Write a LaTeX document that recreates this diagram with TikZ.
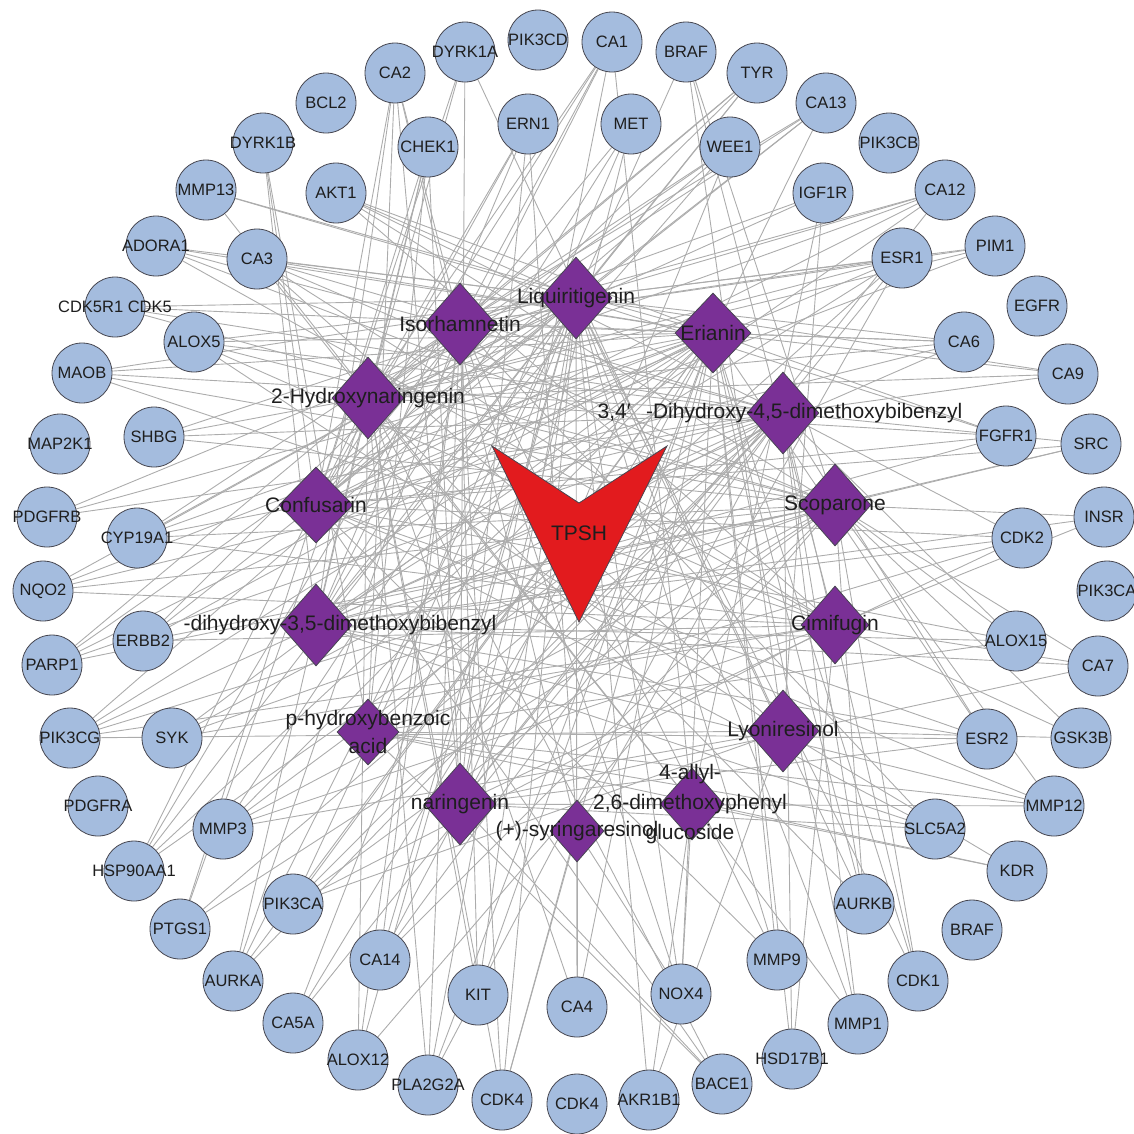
\documentclass[tikz,border=0pt]{standalone}
\usepackage{fontspec}
\setmainfont{Liberation Sans}
\usetikzlibrary{shapes.geometric}
\definecolor{tgtblue}{RGB}{164,188,222}
\definecolor{cpviolet}{RGB}{122,48,150}
\definecolor{tpshred}{RGB}{226,27,30}
\definecolor{nodeline}{RGB}{70,70,80}
\definecolor{edgegray}{RGB}{172,172,172}
\definecolor{txtcol}{RGB}{30,30,30}
\pgfdeclarelayer{edgelayer}
\pgfsetlayers{edgelayer,main}

\begin{document}
\begin{tikzpicture}[x=1pt,y=-1pt,
   tg/.style={circle,draw=nodeline,fill=tgtblue,line width=0.8pt,minimum size=60pt,inner sep=0pt},
   tgtxt/.style={font=\fontsize{16.5}{18}\selectfont,text=txtcol,inner sep=0pt},
   cp/.style={diamond,draw=nodeline,fill=cpviolet,line width=0.8pt,minimum width=72pt,minimum height=82pt,inner sep=0pt},
   cptxt/.style={font=\fontsize{21}{28}\selectfont,text=txtcol,inner sep=0pt,align=center},
   lnk/.style={draw=edgegray,line width=0.9pt}]
  \useasboundingbox (0,0) rectangle (1134,1133);
  % outer ring of targets
  \node[tg,label={[tgtxt]center:CA2}] (ca2) at (395,73) {};
  \node[tg,label={[tgtxt]center:DYRK1A}] (dyrk1a) at (465,52) {};
  \node[tg,label={[tgtxt]center:PIK3CD}] (pik3cd) at (538,40) {};
  \node[tg,label={[tgtxt]center:CA1}] (ca1) at (612,42) {};
  \node[tg,label={[tgtxt]center:BRAF}] (brafa) at (686,52) {};
  \node[tg,label={[tgtxt]center:TYR}] (tyr) at (757,73) {};
  \node[tg,label={[tgtxt]center:CA13}] (ca13) at (826,103) {};
  \node[tg,label={[tgtxt]center:PIK3CB}] (pik3cb) at (889,143) {};
  \node[tg,label={[tgtxt]center:CA12}] (ca12) at (945,190) {};
  \node[tg,label={[tgtxt]center:PIM1}] (pim1) at (995,246) {};
  \node[tg,label={[tgtxt]center:EGFR}] (egfr) at (1037,306) {};
  \node[tg,label={[tgtxt]center:CA9}] (ca9) at (1068,374) {};
  \node[tg,label={[tgtxt]center:SRC}] (src) at (1091,444) {};
  \node[tg,label={[tgtxt]center:INSR}] (insr) at (1104,517) {};
  \node[tg,label={[tgtxt]center:PIK3CA}] (pik3cab) at (1107,591) {};
  \node[tg,label={[tgtxt]center:CA7}] (ca7) at (1098,666) {};
  \node[tg,label={[tgtxt]center:GSK3B}] (gsk3b) at (1081,738) {};
  \node[tg,label={[tgtxt]center:MMP12}] (mmp12) at (1054,806) {};
  \node[tg,label={[tgtxt]center:KDR}] (kdr) at (1017,871) {};
  \node[tg,label={[tgtxt]center:BRAF}] (brafb) at (972,930) {};
  \node[tg,label={[tgtxt]center:CDK1}] (cdk1) at (918,981) {};
  \node[tg,label={[tgtxt]center:MMP1}] (mmp1) at (858,1024) {};
  \node[tg,label={[tgtxt]center:HSD17B1}] (hsd17b1) at (792,1059) {};
  \node[tg,label={[tgtxt]center:BACE1}] (bace1) at (722,1084) {};
  \node[tg,label={[tgtxt]center:AKR1B1}] (akr1b1) at (649,1100) {};
  \node[tg,label={[tgtxt]center:CDK4}] (cdk4b) at (577,1104) {};
  \node[tg,label={[tgtxt]center:CDK4}] (cdk4a) at (502,1100) {};
  \node[tg,label={[tgtxt]center:PLA2G2A}] (pla2g2a) at (428,1085) {};
  \node[tg,label={[tgtxt]center:ALOX12}] (alox12) at (358,1060) {};
  \node[tg,label={[tgtxt]center:CA5A}] (ca5a) at (293,1023) {};
  \node[tg,label={[tgtxt]center:AURKA}] (aurka) at (233,981) {};
  \node[tg,label={[tgtxt]center:PTGS1}] (ptgs1) at (180,929) {};
  \node[tg,label={[tgtxt]center:HSP90AA1}] (hsp90aa1) at (134,871) {};
  \node[tg,label={[tgtxt]center:PDGFRA}] (pdgfra) at (98,806) {};
  \node[tg,label={[tgtxt]center:PIK3CG}] (pik3cg) at (70,738) {};
  \node[tg,label={[tgtxt]center:PARP1}] (parp1) at (52,665) {};
  \node[tg,label={[tgtxt]center:NQO2}] (nqo2) at (43,591) {};
  \node[tg,label={[tgtxt]center:PDGFRB}] (pdgfrb) at (47,517) {};
  \node[tg,label={[tgtxt]center:MAP2K1}] (map2k1) at (60,444) {};
  \node[tg,label={[tgtxt]center:MAOB}] (maob) at (82,373) {};
  \node[tg,label={[tgtxt]center:CDK5R1 CDK5}] (cdk5) at (115,307) {};
  \node[tg,label={[tgtxt]center:ADORA1}] (adora1) at (156,246) {};
  \node[tg,label={[tgtxt]center:MMP13}] (mmp13) at (206,190) {};
  \node[tg,label={[tgtxt]center:DYRK1B}] (dyrk1b) at (263,143) {};
  \node[tg,label={[tgtxt]center:BCL2}] (bcl2) at (326,103) {};
  % inner ring of targets
  \node[tg,label={[tgtxt]center:CHEK1}] (chek1) at (428,147) {};
  \node[tg,label={[tgtxt]center:ERN1}] (ern1) at (528,124) {};
  \node[tg,label={[tgtxt]center:MET}] (met) at (631,124) {};
  \node[tg,label={[tgtxt]center:WEE1}] (wee1) at (730,147) {};
  \node[tg,label={[tgtxt]center:IGF1R}] (igf1r) at (823,193) {};
  \node[tg,label={[tgtxt]center:ESR1}] (esr1) at (902,258) {};
  \node[tg,label={[tgtxt]center:CA6}] (ca6) at (964,342) {};
  \node[tg,label={[tgtxt]center:FGFR1}] (fgfr1) at (1006,436) {};
  \node[tg,label={[tgtxt]center:CDK2}] (cdk2) at (1022,538) {};
  \node[tg,label={[tgtxt]center:ALOX15}] (alox15) at (1016,641) {};
  \node[tg,label={[tgtxt]center:ESR2}] (esr2) at (987,739) {};
  \node[tg,label={[tgtxt]center:SLC5A2}] (slc5a2) at (935,829) {};
  \node[tg,label={[tgtxt]center:AURKB}] (aurkb) at (864,904) {};
  \node[tg,label={[tgtxt]center:MMP9}] (mmp9) at (777,960) {};
  \node[tg,label={[tgtxt]center:NOX4}] (nox4) at (681,994) {};
  \node[tg,label={[tgtxt]center:CA4}] (ca4) at (577,1007) {};
  \node[tg,label={[tgtxt]center:KIT}] (kit) at (478,995) {};
  \node[tg,label={[tgtxt]center:CA14}] (ca14) at (380,960) {};
  \node[tg,label={[tgtxt]center:PIK3CA}] (pik3caa) at (293,904) {};
  \node[tg,label={[tgtxt]center:MMP3}] (mmp3) at (223,829) {};
  \node[tg,label={[tgtxt]center:SYK}] (syk) at (172,738) {};
  \node[tg,label={[tgtxt]center:ERBB2}] (erbb2) at (143,641) {};
  \node[tg,label={[tgtxt]center:CYP19A1}] (cyp19a1) at (137,538) {};
  \node[tg,label={[tgtxt]center:SHBG}] (shbg) at (154,437) {};
  \node[tg,label={[tgtxt]center:ALOX5}] (alox5) at (194,342) {};
  \node[tg,label={[tgtxt]center:CA3}] (ca3) at (257,259) {};
  \node[tg,label={[tgtxt]center:AKT1}] (akt1) at (336,193) {};
  % compounds
  \node[cp,label={[cptxt]center:Isorhamnetin}] (iso) at (460,324) {};
  \node[cp,label={[cptxt]center:Liquiritigenin}] (liq) at (576,298) {};
  \node[cp,minimum width=76pt,minimum height=80pt,label={[cptxt]center:Erianin}] (eri) at (713,333) {};
  \node[cp,label={[cptxt]center:2-Hydroxynaringenin}] (hyd) at (368,398) {};
  \node[cp,label={[cptxt,xshift=-3pt]center:3,4′\ \ \,-Dihydroxy-4,5-dimethoxybibenzyl}] (dmb) at (783,413) {};
  \node[cp,minimum width=74pt,minimum height=76pt,label={[cptxt]center:Confusarin}] (con) at (316,505) {};
  \node[cp,label={[cptxt]center:Scoparone}] (sco) at (835,505) {};
  \node[cp,label={[cptxt,xshift=24pt]center:-dihydroxy-3,5-dimethoxybibenzyl}] (dhb) at (316,625) {};
  \node[cp,minimum width=68pt,minimum height=78pt,label={[cptxt]center:Cimifugin}] (cim) at (835,625) {};
  \node[cp,minimum width=62pt,minimum height=66pt,label={[cptxt]center:p-hydroxybenzoic\\acid}] (phb) at (368,732) {};
  \node[cp,label={[cptxt]center:Lyoniresinol}] (lyo) at (783,731) {};
  \node[cp,label={[cptxt]center:naringenin}] (nar) at (460,804) {};
  \node[cp,minimum width=54pt,minimum height=62pt,label={[cptxt]center:(+)-syringaresinol}] (syr) at (577,831) {};
  \node[cp,minimum width=64pt,minimum height=72pt,label={[cptxt,font=\fontsize{21}{30}\selectfont,xshift=-2pt]center:4-allyl-\\2,6-dimethoxyphenyl\\glucoside}] (agl) at (692,804) {};
  % herb
  \filldraw[fill=tpshred,draw=nodeline,line width=0.8pt] (492,446) -- (579,503) -- (667,446) -- (579,622) -- cycle;
  \node[font=\fontsize{21}{24}\selectfont,text=txtcol,inner sep=0pt] (tpsh) at (579,533) {TPSH};
  % compound--target links
  \begin{pgfonlayer}{edgelayer}
  \foreach \t/\cs in {ca2/{iso,con,dhb,phb,nar,syr}, dyrk1a/{hyd,con,nar,lyo},
      ca1/{iso,hyd,con,dhb,nar,agl}, brafa/{liq,sco,cim,lyo}, tyr/{liq,iso,hyd,con,dhb},
      ca13/{liq,iso,hyd,eri,con}, igf1r/{iso,hyd,lyo,agl}, ca12/{iso,liq,hyd,con,dhb,nar},
      esr1/{iso,liq,hyd,con,dhb,nar,syr,phb}, pim1/{liq,iso,hyd,con}, ca6/{iso,liq,eri,hyd,con,dhb},
      ca9/{eri,dmb,hyd,liq}, src/{dmb,sco,con,dhb}, fgfr1/{eri,liq,con,dhb,hyd}, insr/{sco,cim,dhb},
      cdk2/{dmb,con,dhb,phb,nar}, alox15/{dmb,sco,con,phb,dhb}, ca7/{sco,dhb,nar,cim},
      esr2/{dmb,eri,con,dhb,phb,nar}, gsk3b/{cim,lyo,sco}, mmp12/{con,dhb,phb,nar,sco},
      slc5a2/{iso,con,dhb,nar,phb}, kdr/{lyo,agl,phb}, aurkb/{eri,dmb,liq,sco,hyd},
      cdk1/{eri,dmb,liq,sco}, mmp1/{eri,liq,dmb,agl}, mmp9/{iso,liq,eri,con}, hsd17b1/{eri,dmb,cim},
      bace1/{con,hyd,phb,nar}, nox4/{liq,iso,eri,syr,agl}, akr1b1/{liq,agl,lyo}, ca4/{liq,syr,hyd,eri},
      cdk4a/{liq,iso,hyd,eri,syr}, kit/{hyd,liq,iso,eri}, pla2g2a/{iso,hyd,liq,eri,dmb},
      ca14/{iso,liq,eri,dmb,sco}, alox12/{iso,hyd,liq,sco}, ca5a/{liq,eri,dmb},
      pik3caa/{eri,dmb,sco,liq,cim,lyo}, aurka/{hyd,iso,liq,eri,dmb}, ptgs1/{con,hyd,dmb,sco},
      mmp3/{liq,eri,dmb,sco,cim,lyo}, hsp90aa1/{hyd,iso,liq,eri,dmb}, pik3cg/{liq,eri,dmb,sco,cim,lyo},
      syk/{eri,dmb,sco,cim}, parp1/{iso,liq,eri,dmb,sco}, erbb2/{iso,liq,eri,sco,cim},
      nqo2/{liq,eri,dmb,sco,cim}, cyp19a1/{iso,liq,eri,dmb,sco,cim}, pdgfrb/{liq,eri,dmb},
      shbg/{liq,eri,dmb,sco}, maob/{liq,eri,dmb,sco,cim}, alox5/{liq,eri,dmb,sco,cim,lyo},
      cdk5/{liq,eri,dmb,sco}, adora1/{liq,eri,dmb,sco,cim}, ca3/{liq,eri,dmb,sco,cim,lyo,agl},
      mmp13/{liq,eri,agl}, dyrk1b/{con,dhb,phb}, akt1/{liq,eri,dmb,sco,cim},
      chek1/{hyd,con,dhb,phb,nar}, ern1/{hyd,con,dhb,nar,syr}, met/{con,dhb,phb,nar},
      wee1/{iso,hyd,con,dhb,nar}}
    \foreach \c in \cs
      \draw[lnk] (\t) -- (\c);
  \end{pgfonlayer}
\end{tikzpicture}
\end{document}
